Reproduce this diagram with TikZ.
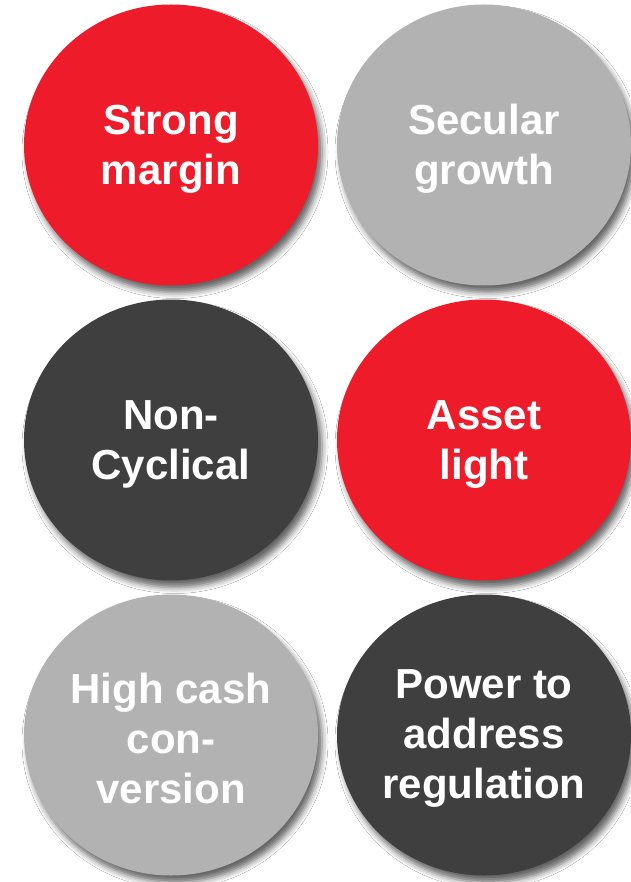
\documentclass[tikz,border=0pt]{standalone}
\usepackage{fontspec}
\setmainfont{Liberation Sans}
\usetikzlibrary{shapes.geometric,shadows.blur}
\definecolor{cred}{HTML}{EE1C2B}
\definecolor{cgray}{HTML}{B2B2B2}
\definecolor{cdark}{HTML}{3F3F3F}
\begin{document}
\begin{tikzpicture}[x=1pt,y=-1pt,
  bubble/.style={ellipse, minimum width=294pt, minimum height=281pt, inner sep=0pt,
    blur shadow={shadow xshift=4pt, shadow yshift=-7pt, shadow blur radius=6pt, shadow opacity=60}},
  lbl/.style={text=white, align=center, inner sep=0pt, font=\fontsize{42}{50}\selectfont\bfseries}]
\useasboundingbox (0,0) rectangle (630,882);
\fill[white] (0,0) rectangle (630,882);
\node[bubble, fill=cred]  (sm) at (171,145) {};
\node[bubble, fill=cgray] (sg) at (484,145) {};
\node[bubble, fill=cdark] (nc) at (171,440) {};
\node[bubble, fill=cred]  (al) at (484,440) {};
\node[bubble, fill=cgray] (hc) at (171,735) {};
\node[bubble, fill=cdark] (pr) at (484,735) {};
\node[lbl] (tsm) at ([yshift=-4pt]sm.center) {Strong\\margin};
\node[lbl] (tsg) at ([yshift=-4pt]sg.center) {Secular\\growth};
\node[lbl] (tnc) at ([yshift=-4pt]nc.center) {Non-\\Cyclical};
\node[lbl] (tal) at ([yshift=-4pt]al.center) {Asset\\light};
\node[lbl] (thc) at ([yshift=-3pt]hc.center) {High cash\\con-\\version};
\node[lbl] (tpr) at ([yshift=-3pt]pr.center) {Power to\\address\\regulation};
\end{tikzpicture}
\end{document}
